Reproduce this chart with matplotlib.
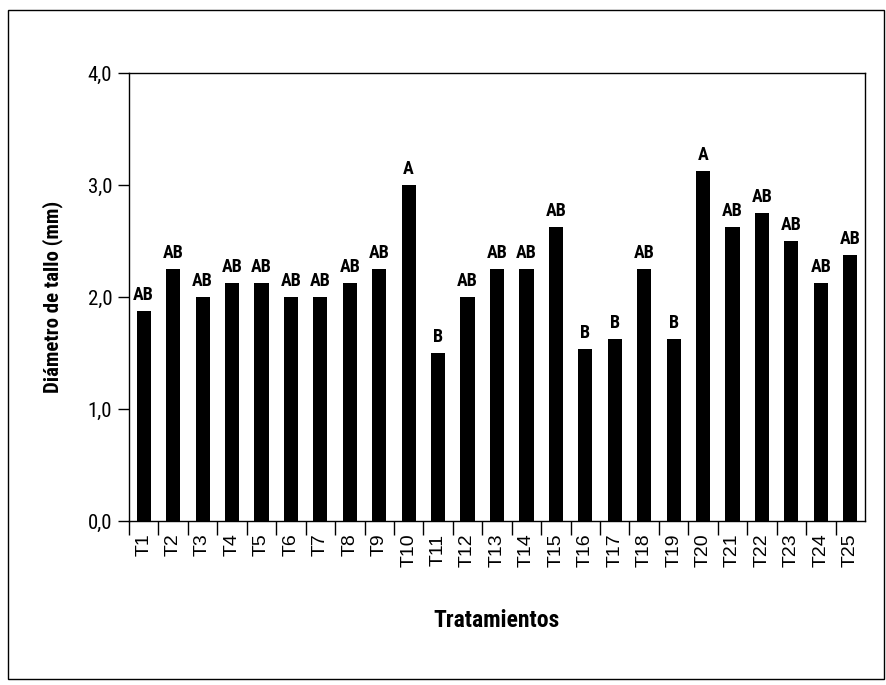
import matplotlib
matplotlib.use("Agg")
import matplotlib.pyplot as plt
from matplotlib.patches import Rectangle
from matplotlib import font_manager
import numpy as np

categories = [f"T{i}" for i in range(1, 26)]
values = [1.875, 2.25, 2.0, 2.125, 2.125, 2.0, 2.0, 2.125, 2.25, 3.0,
          1.5, 2.0, 2.25, 2.25, 2.625, 1.54, 1.625, 2.25, 1.625, 3.125,
          2.625, 2.75, 2.5, 2.125, 2.375]
letters = ["AB", "AB", "AB", "AB", "AB", "AB", "AB", "AB", "AB", "A",
           "B", "AB", "AB", "AB", "AB", "B", "B", "AB", "B", "A",
           "AB", "AB", "AB", "AB", "AB"]
yticks = [0.0, 1.0, 2.0, 3.0, 4.0]
ytick_labels = ["0,0", "1,0", "2,0", "3,0", "4,0"]

names = {f.name for f in font_manager.fontManager.ttflist}
cond = [n for n in ["Roboto Condensed", "Liberation Sans Narrow", "Roboto"] if n in names] + ["DejaVu Sans"]

fig = plt.figure(figsize=(8.86, 6.85), dpi=100)
fig.patches.append(Rectangle((8/886, 6/685), 876/886, 669/685, transform=fig.transFigure,
                             fill=False, edgecolor="black", linewidth=1.0))
ax = fig.add_axes([129/886, 164/685, 736/886, 448/685])

x = np.arange(len(categories)) + 0.5
ax.bar(x, values, width=0.48, color="black")
for xi, v, l in zip(x, values, letters):
    ax.text(xi, v + 0.06, l, ha="center", va="bottom", fontsize=13,
            fontweight="bold", family=cond)

ax.set_xlim(0, len(categories))
ax.set_ylim(0, 4.0)
ax.set_yticks(yticks)
ax.set_yticklabels(ytick_labels, family=cond, fontsize=15)
ax.set_xticks(np.arange(0, len(categories)))
ax.set_xticklabels([])
ax.set_xticks(x, minor=True)
ax.set_xticklabels(categories, minor=True, rotation=90, fontsize=14,
                   family=["Liberation Sans", "DejaVu Sans"])
ax.tick_params(axis="x", which="major", length=10, width=1, direction="out")
ax.tick_params(axis="x", which="minor", length=0, pad=9)
ax.tick_params(axis="y", length=8, width=1, direction="out", pad=4)
for s in ax.spines.values():
    s.set_linewidth(1)

ax.set_ylabel("Diámetro de tallo (mm)", fontsize=15, fontweight="bold", family=cond, labelpad=18)
ax.set_xlabel("Tratamientos", fontsize=17, fontweight="bold", family=cond, labelpad=30)

fig.savefig("out.png", dpi=100)
